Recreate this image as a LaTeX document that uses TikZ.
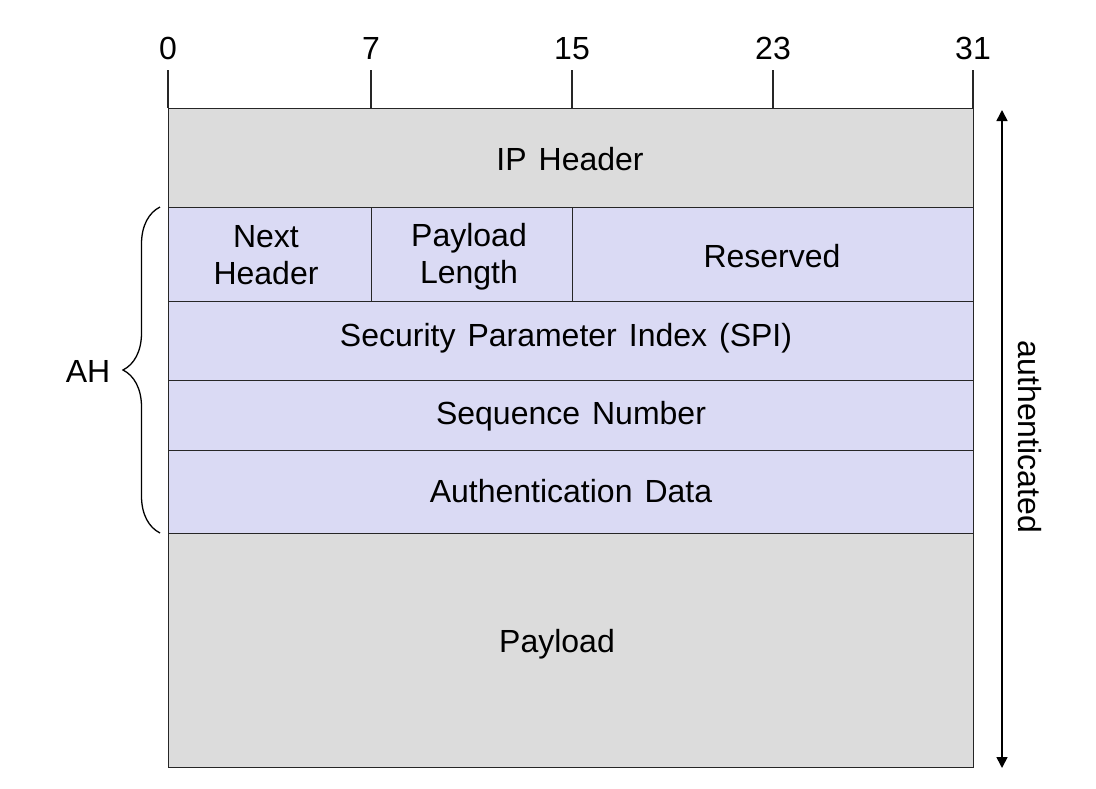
\documentclass[tikz,border=0pt]{standalone}
\usepackage{fontspec}
\setmainfont[WordSpace=1.35]{Liberation Sans}
\usetikzlibrary{decorations.pathreplacing,arrows.meta}
\definecolor{hdrfill}{RGB}{220,220,220}
\definecolor{ahfill}{RGB}{218,218,244}
\begin{document}
\begin{tikzpicture}[x=1pt,y=-1pt,
  font=\fontsize{32}{37}\selectfont,
  field/.style={draw=black!85, line width=1.4pt, inner sep=0pt, anchor=north west},
  hdrbox/.style={field, fill=hdrfill},
  ahbox/.style={field, fill=ahfill},
  lbl/.style={anchor=base, inner sep=0pt},
  mlbl/.style={align=center, inner sep=0pt},
  tick/.style={line width=1.4pt, draw=black!85},
]
\useasboundingbox (0,0) rectangle (1096,788);
% boxes
\node[hdrbox, minimum width=805pt, minimum height=99pt] (ip) at (168,108) {};
\node[ahbox, minimum width=203pt, minimum height=94pt] (nh) at (168,207) {};
\node[ahbox, minimum width=201pt, minimum height=94pt] (pl) at (371,207) {};
\node[ahbox, minimum width=401pt, minimum height=94pt] (rs) at (572,207) {};
\node[ahbox, minimum width=805pt, minimum height=79pt] (spi) at (168,301) {};
\node[ahbox, minimum width=805pt, minimum height=70pt] (seq) at (168,380) {};
\node[ahbox, minimum width=805pt, minimum height=83pt] (auth) at (168,450) {};
\node[hdrbox, minimum width=805pt, minimum height=234pt] (pay) at (168,533) {};
% texts
\node[lbl] (tip) at (570,170) {IP Header};
\node[mlbl] (tnh) at (266,255) {Next\\Header};
\node[mlbl] (tpl) at (469,257) {Payload\\Length};
\node[lbl] (trs) at (772,267) {Reserved};
\node[lbl] (tspi) at (566,346) {Security Parameter Index (SPI)};
\node[lbl] (tseq) at (571,424) {Sequence Number};
\node[lbl] (tauth) at (571,502) {Authentication Data};
\node[lbl] (tpay) at (557,652) {Payload};
% bit ruler
\foreach \b/\x in {0/168,7/371,15/572,23/773,31/973}{
  \coordinate (t\b) at (\x,108);
  \coordinate (u\b) at (\x,70);
  \draw[tick] (t\b) -- (u\b);
  \node[lbl] (b\b) at (\x,59) {\b};
}
% AH brace
\coordinate (brb) at (160,533);
\coordinate (brt) at (160,207);
\draw[line width=1.3pt, decorate, decoration={brace, amplitude=37pt}] (brb) -- (brt);
\node[lbl] (ahl) at (88,382) {AH};
% authenticated arrow
\coordinate (at) at (1002,110);
\coordinate (ab) at (1002,768);
\draw[line width=1.6pt, {Triangle[length=11pt,width=11pt]}-{Triangle[length=11pt,width=11pt]}] (ab) -- (at);
\node[rotate=-90, inner sep=0pt] (authl) at (1030,437) {authenticated};
\end{tikzpicture}
\end{document}
